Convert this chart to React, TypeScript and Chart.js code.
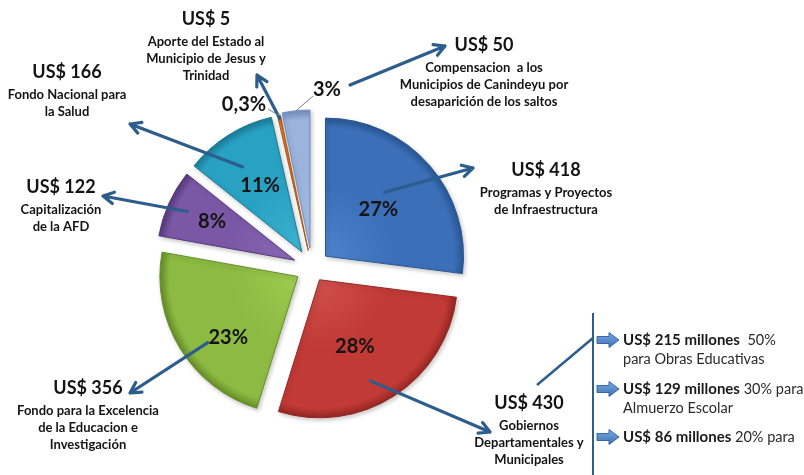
import React, { useEffect, useRef } from "react";
import { Chart, registerables } from "chart.js";

Chart.register(...registerables);

// ---------- data ----------
const categories = [
  "Programas y Proyectos de Infraestructura",
  "Gobiernos Departamentales y Municipales",
  "Fondo para la Excelencia de la Educacion e Investigación",
  "Capitalización de la AFD",
  "Fondo Nacional para la Salud",
  "Aporte del Estado al Municipio de Jesus y Trinidad",
  "Compensacion a los Municipios de Canindeyu por desaparición de los saltos",
];
const amounts = [418, 430, 356, 122, 166, 5, 50];
const percentLabels = ["27%", "28%", "23%", "8%", "11%", "0,3%", "3%"];
const amountLabels = ["US$ 418", "US$ 430", "US$ 356", "US$ 122", "US$ 166", "US$ 5", "US$ 50"];
const descriptionLines = [
  ["Programas y Proyectos", "de Infraestructura"],
  ["Gobiernos", "Departamentales y", "Municipales"],
  ["Fondo para la Excelencia", "de la Educacion e", "Investigación"],
  ["Capitalización", "de la AFD"],
  ["Fondo Nacional para", "la Salud"],
  ["Aporte del Estado al", "Municipio de Jesus y", "Trinidad"],
  ["Compensacion  a los", "Municipios de Canindeyu por", "desaparición de los saltos"],
];
const breakdownAmounts = ["US$ 215 millones", "US$ 129 millones", "US$ 86 millones"];
const breakdownFirstLine = ["  50%", " 30% para", " 20% para"];
const breakdownSecondLine = ["para Obras Educativas", "Almuerzo Escolar", ""];

// ---------- styles / layout ----------
const sliceColors = [
  { light: "#4d83cc", base: "#3b6fb8", dark: "#2a5794" },
  { light: "#d0504b", base: "#c13a35", dark: "#952623" },
  { light: "#9dca50", base: "#8cba42", dark: "#678f29" },
  { light: "#8968b6", base: "#7a58a5", dark: "#573a7e" },
  { light: "#3db2d2", base: "#29a1c2", dark: "#1a7d99" },
  { light: "#f09448", base: "#e17c2a", dark: "#b0581a" },
  { light: "#adc4ea", base: "#9bb3dd", dark: "#7490c0" },
];
const PIE_RADIUS = 138;
const explodeOffsets = [18, 14, 16.5, 19, 19, 18, 20];
// [fraction along slice angle, fraction of radius]
const percentPolar: (number[] | null)[] = [
  [0.5, 0.51], [0.55, 0.55], [0.38, 0.67], [0.52, 0.66], [0.5, 0.57], null, null,
];
const outsidePercentPos: Record<number, { x: number; y: number; lead: number[] }> = {
  5: { x: 244, y: 105, lead: [268, 109] },
  6: { x: 327, y: 90, lead: [313, 96] },
};
const labelBlocks = [
  { x: 546, y: 170 },
  { x: 529, y: 403 },
  { x: 88, y: 388 },
  { x: 61, y: 187 },
  { x: 67, y: 72 },
  { x: 206, y: 19 },
  { x: 484, y: 45 },
];
const arrowStarts: (number[] | null)[] = [
  [0.44, 0.63], [0.56, 0.82], [0.44, 0.81], [0.5, 0.855], [0.43, 0.75], [0.5, 0.98], null,
];
const arrowEnds = [
  [473, 168], [490, 432], [130, 393], [103, 196], [130, 124], [257, 75], [445, 46],
];
const label6ArrowStart = [350, 85];
const ARROW_COLOR = "#2d5d8d";
const FONT = "Lato, 'Open Sans', sans-serif";

function slicePoint(chart: any, i: number, frac: number, rf: number) {
  const arc: any = chart.getDatasetMeta(0).data[i];
  const mid = (arc.startAngle + arc.endAngle) / 2;
  const ax = arc.x + Math.cos(mid) * explodeOffsets[i];
  const ay = arc.y + Math.sin(mid) * explodeOffsets[i];
  const ang = arc.startAngle + frac * (arc.endAngle - arc.startAngle);
  const r = arc.outerRadius * rf;
  return [ax + Math.cos(ang) * r, ay + Math.sin(ang) * r];
}

function drawArrow(ctx: CanvasRenderingContext2D, x1: number, y1: number, x2: number, y2: number) {
  const a = Math.atan2(y2 - y1, x2 - x1);
  const h = 12;
  ctx.save();
  ctx.strokeStyle = ARROW_COLOR;
  ctx.lineWidth = 3.2;
  ctx.lineCap = "round";
  ctx.lineJoin = "round";
  ctx.beginPath();
  ctx.moveTo(x1, y1);
  ctx.lineTo(x2, y2);
  ctx.moveTo(x2 - h * Math.cos(a - 0.5), y2 - h * Math.sin(a - 0.5));
  ctx.lineTo(x2, y2);
  ctx.lineTo(x2 - h * Math.cos(a + 0.5), y2 - h * Math.sin(a + 0.5));
  ctx.stroke();
  ctx.restore();
}

function drawBlockArrow(ctx: CanvasRenderingContext2D, x: number, y: number) {
  ctx.save();
  const g = ctx.createLinearGradient(0, y - 7, 0, y + 7);
  g.addColorStop(0, "#7aa6de");
  g.addColorStop(1, "#3f73b8");
  ctx.fillStyle = g;
  ctx.strokeStyle = "#3a67a3";
  ctx.lineWidth = 1;
  ctx.beginPath();
  ctx.moveTo(x, y - 3.5);
  ctx.lineTo(x + 12, y - 3.5);
  ctx.lineTo(x + 12, y - 7.5);
  ctx.lineTo(x + 22, y);
  ctx.lineTo(x + 12, y + 7.5);
  ctx.lineTo(x + 12, y + 3.5);
  ctx.lineTo(x, y + 3.5);
  ctx.closePath();
  ctx.fill();
  ctx.stroke();
  ctx.restore();
}

const explodePlugin = {
  id: "explodeDraw",
  beforeDatasetDraw(chart: any, args: any) {
    const ctx = chart.ctx;
    args.meta.data.forEach((arc: any, i: number) => {
      const mid = (arc.startAngle + arc.endAngle) / 2;
      const d = explodeOffsets[i];
      ctx.save();
      ctx.translate(Math.cos(mid) * d, Math.sin(mid) * d);
      ctx.shadowColor = "rgba(0,0,0,0.22)";
      ctx.shadowBlur = 4;
      ctx.shadowOffsetX = 1.5;
      ctx.shadowOffsetY = 2;
      arc.draw(ctx, chart.chartArea);
      ctx.restore();
    });
    return false;
  },
};

const annotationPlugin = {
  id: "annotations",
  afterDraw(chart: any) {
    const ctx: CanvasRenderingContext2D = chart.ctx;
    ctx.save();
    ctx.textAlign = "center";
    ctx.textBaseline = "middle";

    // arrows from slices to labels
    arrowEnds.forEach((end, i) => {
      const s = arrowStarts[i];
      const start = s ? slicePoint(chart, i, s[0], s[1]) : label6ArrowStart;
      drawArrow(ctx, start[0], start[1], end[0], end[1]);
    });

    // leader lines for small slices
    [5, 6].forEach((i) => {
      const p = outsidePercentPos[i];
      const edge = slicePoint(chart, i, 0.5, 1.0);
      ctx.strokeStyle = "#7f7f7f";
      ctx.lineWidth = 1;
      ctx.beginPath();
      ctx.moveTo(p.lead[0], p.lead[1]);
      ctx.lineTo(edge[0], edge[1]);
      ctx.stroke();
    });

    // percentage labels
    ctx.fillStyle = "#141414";
    ctx.font = `bold 20px ${FONT}`;
    percentLabels.forEach((txt, i) => {
      const pp = percentPolar[i];
      if (pp) {
        const [x, y] = slicePoint(chart, i, pp[0], pp[1]);
        ctx.fillText(txt, x, y);
      } else {
        const p = outsidePercentPos[i];
        ctx.fillText(txt, p.x, p.y);
      }
    });

    // amount labels and descriptions
    labelBlocks.forEach((b, i) => {
      ctx.fillStyle = "#141414";
      ctx.font = `bold 18px ${FONT}`;
      ctx.fillText(amountLabels[i], b.x, b.y);
      ctx.font = `bold 13px ${FONT}`;
      descriptionLines[i].forEach((line, k) => {
        ctx.fillText(line, b.x, b.y + 22.5 + k * 17);
      });
    });

    // breakdown of US$ 430
    ctx.strokeStyle = ARROW_COLOR;
    ctx.lineWidth = 2.5;
    ctx.beginPath();
    ctx.moveTo(537, 385);
    ctx.lineTo(593, 338);
    ctx.stroke();
    ctx.lineWidth = 2;
    ctx.beginPath();
    ctx.moveTo(593, 313);
    ctx.lineTo(593, 475);
    ctx.stroke();

    const rowsY = [340, 389, 437];
    ctx.textAlign = "left";
    breakdownAmounts.forEach((amt, k) => {
      const y = rowsY[k];
      drawBlockArrow(ctx, 597, y);
      ctx.fillStyle = "#1a1a1a";
      ctx.font = `bold 15px ${FONT}`;
      ctx.fillText(amt, 623, y);
      const w = ctx.measureText(amt).width;
      ctx.fillStyle = "#2a2a2a";
      ctx.font = `14.5px ${FONT}`;
      ctx.fillText(breakdownFirstLine[k], 623 + w, y);
      if (breakdownSecondLine[k]) ctx.fillText(breakdownSecondLine[k], 623, y + 19);
    });
    ctx.restore();
  },
};

export default function App() {
  const canvasRef = useRef<HTMLCanvasElement | null>(null);
  useEffect(() => {
    if (!canvasRef.current) return;
    const chart = new Chart(canvasRef.current, {
      type: "pie",
      data: {
        labels: categories,
        datasets: [
          {
            data: amounts,
            radius: PIE_RADIUS,
            borderWidth: 1,
            borderColor: sliceColors.map((c) => c.dark),
            backgroundColor: (c: any) => {
              const i = c.dataIndex ?? 0;
              const col = sliceColors[i] || sliceColors[0];
              const area = c.chart.chartArea;
              if (!area) return col.base;
              const cx = (area.left + area.right) / 2;
              const cy = (area.top + area.bottom) / 2;
              const g = c.chart.ctx.createRadialGradient(cx, cy, 0, cx, cy, PIE_RADIUS);
              g.addColorStop(0, col.light);
              g.addColorStop(0.5, col.base);
              g.addColorStop(0.93, col.base);
              g.addColorStop(1, col.dark);
              return g;
            },
          } as any,
        ],
      },
      options: {
        responsive: false,
        animation: false,
        events: [],
        layout: { padding: { left: 0, right: 180, top: 61, bottom: 0 } },
        plugins: { legend: { display: false }, tooltip: { enabled: false } },
      },
      plugins: [explodePlugin, annotationPlugin],
    });
    return () => chart.destroy();
  }, []);
  return (
    <div style={{ position: "absolute", left: 0, top: 0, width: 804, height: 475, background: "#ffffff" }}>
      <canvas ref={canvasRef} width={804} height={475} style={{ display: "block" }} />
    </div>
  );
}
